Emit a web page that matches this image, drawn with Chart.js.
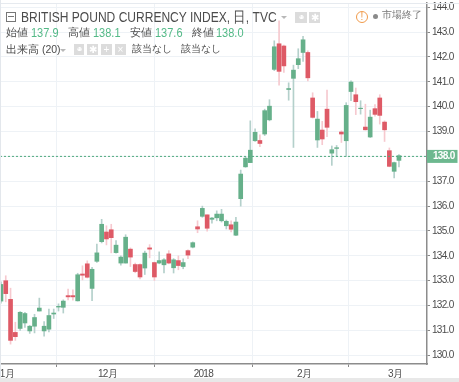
<!DOCTYPE html>
<html lang="ja">
<head>
  <meta charset="UTF-8" />
  <title>British Pound Currency Index</title>
  <script src="https://cdn.jsdelivr.net/npm/chart.js"></script>
  <style>
    html, body { margin: 0; padding: 0; background: #fff; overflow: hidden; }
    #wrap { position: relative; width: 459px; height: 382px; font-family: "Liberation Sans", Arial, sans-serif; color: #4c4c4c; }
    #chart { position: absolute; left: 0; top: 0; }
    .t { position: absolute; white-space: nowrap; line-height: 1; transform-origin: left center; }
    .v { color: #53b987; transform: scaleX(0.88); }
    .ico { position: absolute; background: #dcdcdc; color: #fff; font-size: 10px; line-height: 11px; text-align: center; height: 11px; overflow: hidden; }
    .arrow { position: absolute; width: 0; height: 0; border-left: 3px solid transparent; border-right: 3px solid transparent; border-top: 3px solid #b8b8b8; }
    #bandTop { position: absolute; left: 0; top: 3px; width: 459px; height: 1px; background: #e6eaef; }
    #bandLeft { position: absolute; left: 0; top: 0; width: 1px; height: 378px; background: #e3e7ec; }
    #bandBottom { position: absolute; left: 0; top: 378px; width: 459px; height: 4px; background: #e8e8e8; }
  </style>
</head>
<body>
<div id="wrap">
  <canvas id="chart" width="459" height="382"></canvas>
  <div id="bandTop"></div>
  <div id="bandLeft"></div>
  <div id="bandBottom"></div>

  <div style="position:absolute;left:6px;top:12px;width:8px;height:8px;border:1px solid #777;"></div>
  <div style="position:absolute;left:8px;top:16px;width:6px;height:1px;background:#777;"></div>
  <div class="t" style="left:21px;top:10px;font-size:14.5px;transform:scaleX(0.83);">BRITISH POUND CURRENCY INDEX, 日, TVC</div>
  <div class="arrow" style="left:281px;top:16px;"></div>
  <div class="ico" style="left:295px;top:12px;width:12px;">◉</div>
  <div class="ico" style="left:309px;top:12px;width:11px;">✱</div>
  <div style="position:absolute;left:356px;top:11px;width:10px;height:10px;border:1px solid #f09a4a;border-radius:50%;"></div>
  <div class="t" style="left:356px;top:12px;width:12px;text-align:center;font-size:10px;color:#f09a4a;">!</div>
  <div style="position:absolute;left:373px;top:14px;width:5px;height:5px;background:#8a8a8a;border-radius:50%;"></div>
  <div class="t" style="left:382px;top:10px;font-size:10px;color:#777;">市場終了</div>

  <div class="t" style="left:6px;top:27px;font-size:11px;">始値</div>
  <div class="t v" style="left:31px;top:27px;font-size:12.5px;">137.9</div>
  <div class="t" style="left:68px;top:27px;font-size:11px;">高値</div>
  <div class="t v" style="left:93px;top:27px;font-size:12.5px;">138.1</div>
  <div class="t" style="left:130px;top:27px;font-size:11px;">安値</div>
  <div class="t v" style="left:155px;top:27px;font-size:12.5px;">137.6</div>
  <div class="t" style="left:192px;top:27px;font-size:11px;">終値</div>
  <div class="t v" style="left:216px;top:27px;font-size:12.5px;">138.0</div>

  <div class="t" style="left:6px;top:44px;font-size:10.5px;">出来高 (20)</div>
  <div class="arrow" style="left:60px;top:49px;"></div>
  <div class="ico" style="left:74px;top:44px;width:10px;">◉</div>
  <div class="ico" style="left:87px;top:44px;width:11px;">✱</div>
  <div class="ico" style="left:101px;top:44px;width:11px;">+</div>
  <div class="ico" style="left:115px;top:44px;width:11px;">×</div>
  <div class="t" style="left:132px;top:44px;font-size:9.5px;">該当なし</div>
  <div class="t" style="left:181px;top:44px;font-size:9.5px;">該当なし</div>
</div>

<script>
  const opens = [132.18,133.0,132.25,130.92,131.08,131.3,130.98,131.17,131.78,130.98,131.05,131.66,131.94,131.93,132.4,132.4,132.19,133.27,133.68,132.69,
    133.78,134.57,134.96,135.05,134.13,133.71,133.71,134.27,133.65,133.65,133.51,134.32,133.73,133.71,133.64,134.08,133.52,133.81,133.57,134.21,
    134.35,135.17,135.59,135.65,135.47,135.53,135.41,135.21,135.25,134.83,136.3,137.58,137.75,138.63,138.64,138.9,139.47,141.5,142.53,142.44,
    140.69,141.14,141.69,142.18,142.18,140.35,138.66,139.06,139.9,138.13,138.32,138.98,138.63,140.61,140.48,139.92,139.18,138.78,139.92,140.35,
    139.38,138.23,137.4,137.84];
  const highs = [132.95,133.2,132.7,131.33,131.76,131.73,131.2,131.65,132.3,131.36,131.86,131.86,132.07,132.23,132.66,132.63,133.3,133.6,133.8,133.54,
    134.47,135.47,135.21,135.27,134.61,134.0,134.85,134.32,133.71,133.68,134.19,134.45,133.75,134.16,133.89,134.21,133.89,134.0,133.88,134.24,
    134.56,135.41,136.0,135.65,135.55,135.81,135.87,135.44,135.41,135.55,137.45,137.99,139.43,139.11,138.87,139.9,140.28,142.65,143.45,142.48,
    140.96,141.67,142.33,142.83,142.25,140.56,139.81,139.41,140.67,138.42,138.44,139.03,140.16,141.04,140.75,140.24,140.1,139.86,140.08,140.48,
    139.43,138.34,137.77,138.07];
  const lows = [132.1,132.15,130.45,130.6,131.0,131.12,130.88,130.9,131.78,130.77,130.94,131.48,131.78,131.7,132.23,132.22,132.18,133.03,133.11,132.2,
    133.74,134.52,134.44,134.12,134.11,133.63,133.71,133.57,133.32,133.07,133.25,133.92,133.01,133.68,133.31,133.68,133.31,133.44,133.48,133.89,
    134.32,134.93,135.55,134.99,135.31,135.41,135.36,135.08,134.96,134.81,136.0,137.56,137.75,138.6,138.39,138.84,139.43,141.45,140.86,141.38,
    140.26,138.36,141.53,141.82,141.04,139.54,138.36,138.47,138.79,137.64,137.99,138.56,137.99,140.24,139.68,139.7,139.06,138.76,139.62,139.3,
    138.6,137.58,137.13,137.58];
  const closes = [132.85,132.48,130.6,130.75,131.73,131.68,131.17,131.52,131.9,131.17,131.6,131.7,131.97,132.18,132.35,132.35,133.24,133.22,133.14,133.46,
    134.12,135.27,134.68,134.73,134.43,133.95,134.75,133.95,133.37,133.15,134.11,134.27,133.15,133.81,133.84,133.71,133.84,133.61,133.73,134.03,
    134.53,135.08,135.91,135.11,135.52,135.68,135.68,135.39,135.07,135.36,137.29,137.93,138.25,138.97,138.52,139.84,140.02,142.41,141.42,141.64,
    140.73,141.47,141.93,142.69,141.16,139.57,139.5,138.7,139.17,138.27,138.35,138.9,140.05,140.99,140.2,139.94,139.07,139.58,139.69,139.65,
    139.07,137.6,137.75,138.03];

  const monthTicks = [1, 22, 42, 63, 82];
  const monthLabels = ['1月', '12月', '2018', '2月', '3月'];
  const priceTicks = [130,131,132,133,134,135,136,137,138,139,140,141,142,143,144];
  const lastPrice = 138.0;

  const xMin = -0.2, xMax = 88.85;
  const upColor = '#66b08a', downColor = '#de5a66';
  const upWick = '#b4d0cb', downWick = '#f6c9cf';
  const isUp = opens.map((o, i) => closes[i] >= o);
  const axisFont = '"Liberation Sans", Arial, sans-serif';

  // the reference text is narrow, squeeze the canvas labels a bit
  const narrowText = {
    id: 'narrowText',
    beforeDraw(chart) { chart.ctx.letterSpacing = '-0.7px'; }
  };

  // green box with the last price on the right axis
  const lastPriceBox = {
    id: 'lastPriceBox',
    afterDraw(chart) {
      const c = chart.ctx, y = chart.scales.y.getPixelForValue(lastPrice), left = chart.chartArea.right;
      c.save();
      c.fillStyle = '#6db88f';
      c.fillRect(left, y - 6.5, 30.5, 13);
      c.fillStyle = '#fff';
      c.font = 'bold 10px ' + axisFont;
      c.textBaseline = 'middle';
      c.fillText(lastPrice.toFixed(1), left + 6, y);
      c.restore();
    }
  };

  new Chart(document.getElementById('chart'), {
    type: 'bar',
    data: {
      datasets: [
        {
          type: 'line',
          data: [{ x: xMin, y: lastPrice }, { x: xMax, y: lastPrice }],
          borderColor: '#4fa97f',
          borderWidth: 1,
          borderDash: [2, 2],
          pointRadius: 0,
          order: 0
        },
        {
          data: opens.map((o, i) => ({ x: i, y: [o, closes[i]] })),
          backgroundColor: isUp.map(u => u ? upColor : downColor),
          barThickness: 4,
          grouped: false,
          order: 1
        },
        {
          data: lows.map((l, i) => ({ x: i, y: [l, highs[i]] })),
          backgroundColor: isUp.map(u => u ? upWick : downWick),
          barThickness: 1,
          grouped: false,
          order: 2
        }
      ]
    },
    options: {
      responsive: false,
      animation: false,
      layout: { padding: { top: 3 } },
      plugins: { legend: { display: false }, tooltip: { enabled: false } },
      scales: {
        x: {
          type: 'linear',
          min: xMin,
          max: xMax,
          offset: false,
          afterBuildTicks: s => { s.ticks = monthTicks.map(v => ({ value: v })); },
          afterFit: s => { s.height = 18; s.paddingLeft = 0; s.paddingRight = 0; },
          ticks: {
            autoSkip: false,
            maxRotation: 0,
            padding: 1,
            labelOffset: 1,
            color: '#4c4c4c',
            font: { family: axisFont, size: 10 },
            callback: v => monthLabels[monthTicks.indexOf(v)]
          },
          grid: { color: '#eef2f6', tickColor: '#888', tickLength: 3 },
          border: { color: '#8c8c8c', width: 1.5 }
        },
        y: {
          position: 'right',
          min: 129.65,
          max: 144.17,
          afterBuildTicks: s => { s.ticks = priceTicks.map(v => ({ value: v })); },
          afterFit: s => { s.width = 32; s.paddingTop = 0; s.paddingBottom = 0; },
          ticks: {
            padding: 2,
            color: '#4c4c4c',
            font: { family: axisFont, size: 10 },
            callback: v => v.toFixed(1)
          },
          grid: { color: '#eef2f6', tickColor: '#888', tickLength: 3 },
          border: { color: '#8c8c8c', width: 1.5 }
        }
      }
    },
    plugins: [narrowText, lastPriceBox]
  });
</script>
</body>
</html>
